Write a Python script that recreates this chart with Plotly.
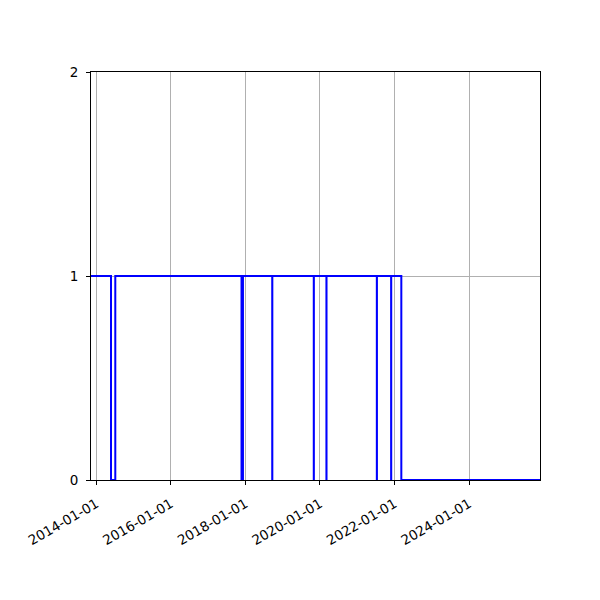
import plotly.graph_objects as go

# step changes of the status series (value holds until next date)
change_dates = ["2013-11-09", "2014-05-24", "2014-07-05", "2017-11-23", "2017-12-07",
                "2018-09-20", "2018-09-21", "2019-11-01", "2019-11-02", "2020-03-04",
                "2020-03-05", "2021-07-11", "2021-07-12", "2021-11-28", "2021-11-29",
                "2022-03-08", "2025-11-26"]
status = [1, 0, 1, 0, 1, 0, 1, 0, 1, 0, 1, 0, 1, 0, 1, 0, 0]

x_ticks = ["2014-01-01", "2016-01-01", "2018-01-01", "2020-01-01", "2022-01-01", "2024-01-01"]
y_ticks = [0, 1, 2]

fig = go.Figure()
fig.add_scatter(x=change_dates, y=status, mode="lines", line_shape="hv",
                line=dict(color="blue", width=2), showlegend=False)

fig.update_xaxes(
    type="date", range=["2013-11-09", "2025-11-26"],
    tickvals=x_ticks, ticktext=x_ticks, tickangle=-30,
    showgrid=True, gridcolor="#b0b0b0", gridwidth=1,
    showline=True, mirror=True, linecolor="black", linewidth=1,
    ticks="outside", ticklen=4, tickcolor="black", zeroline=False,
    ticklabelstandoff=6, tickfont=dict(size=13.5), layer="below traces",
)
fig.update_yaxes(
    range=[0, 2], tickvals=y_ticks,
    showgrid=True, gridcolor="#b0b0b0", gridwidth=1,
    showline=True, mirror=True, linecolor="black", linewidth=1,
    ticks="outside", ticklen=4, tickcolor="black", zeroline=False,
    ticklabelstandoff=5, tickfont=dict(size=13.5), layer="below traces",
)
# page body adds 8px offset, margins compensate
fig.update_layout(
    width=600, height=600,
    margin=dict(l=83, r=68, t=64, b=128),
    plot_bgcolor="white", paper_bgcolor="white",
    font=dict(family="DejaVu Sans", size=13, color="black"),
)
fig.write_html("out.html")
